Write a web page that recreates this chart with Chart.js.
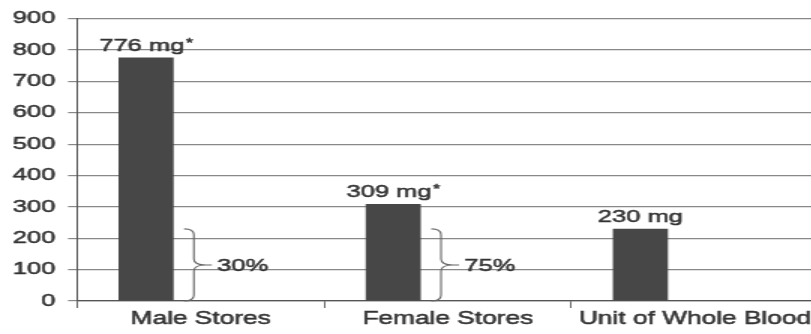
<!DOCTYPE html>
<html>
<head>
<meta charset="utf-8">
<script src="https://cdn.jsdelivr.net/npm/chart.js@4/dist/chart.umd.min.js"></script>
<style>
  html, body { margin: 0; padding: 0; background: #fff; overflow: hidden; width: 811px; height: 334px; }
  /* The figure is drawn narrow and widened horizontally, like the printed original */
  #wrap { position: absolute; left: 0; top: 0; width: 548px; height: 334px; transform: scaleX(1.5); transform-origin: 0 0; }
  canvas { display: block; filter: blur(0.45px); }
</style>
</head>
<body>
<div id="wrap"><canvas id="chart" width="548" height="334"></canvas></div>
<script>
// Iron content (mg)
const categories = ['Male Stores', 'Female Stores', 'Unit of Whole Blood'];
const ironMg = [776, 309, 230];
const footnoteMark = [true, true, false];
// Iron lost with one unit of whole blood, bracketed against each store
const bloodUnitSpan = [230, 230, null];
const shareLabels = ['30%', '75%', null];
const yTickValues = [0, 100, 200, 300, 400, 500, 600, 700, 800, 900];

const TEXT = '#333';
const FONT = '"Liberation Sans", Arial, Helvetica, sans-serif';
const STROKE = 0.5;

function heavyText(ctx, s, x, y) {
  ctx.lineWidth = STROKE;
  ctx.strokeStyle = TEXT;
  ctx.strokeText(s, x, y);
  ctx.fillText(s, x, y);
}

const annotate = {
  id: 'annotate',
  afterDatasetsDraw(chart) {
    const ctx = chart.ctx;
    const bars = chart.getDatasetMeta(0).data;
    const y = chart.scales.y;
    ctx.save();
    bars.forEach((bar, i) => {
      // value label, with an optional footnote asterisk
      const main = ironMg[i] + ' mg';
      ctx.font = '17px ' + FONT;
      const mw = ctx.measureText(main).width;
      let sw = 0;
      if (footnoteMark[i]) {
        ctx.font = '12px ' + FONT;
        sw = ctx.measureText('*').width + 1;
      }
      const left = bar.x - (mw + sw) / 2;
      const base = bar.y - 7;
      ctx.fillStyle = TEXT;
      ctx.textAlign = 'left';
      ctx.textBaseline = 'alphabetic';
      ctx.font = '17px ' + FONT;
      heavyText(ctx, main, left, base);
      if (footnoteMark[i]) {
        ctx.font = '12px ' + FONT;
        heavyText(ctx, '*', left + mw + 1, base - 4);
      }

      // curly brace spanning one unit of blood
      const span = bloodUnitSpan[i];
      if (span == null) return;
      const yTop = y.getPixelForValue(span);
      const yBot = y.getPixelForValue(0);
      const yMid = (yTop + yBot) / 2;
      const xr = bar.x + bar.width / 2;
      const x0 = xr + 7, x1 = xr + 13.5, x2 = xr + 21.5;
      const r = 6;
      ctx.strokeStyle = '#666';
      ctx.lineWidth = 1.1;
      ctx.beginPath();
      ctx.moveTo(x0, yTop);
      ctx.quadraticCurveTo(x1, yTop, x1, yTop + r);
      ctx.lineTo(x1, yMid - r);
      ctx.quadraticCurveTo(x1, yMid, x2, yMid);
      ctx.quadraticCurveTo(x1, yMid, x1, yMid + r);
      ctx.lineTo(x1, yBot - r);
      ctx.quadraticCurveTo(x1, yBot, x0, yBot);
      ctx.moveTo(x2, yMid);
      ctx.lineTo(x2 + 4, yMid);
      ctx.stroke();

      ctx.font = '17px ' + FONT;
      ctx.textBaseline = 'middle';
      heavyText(ctx, shareLabels[i], xr + 29, yMid + 1);
    });
    ctx.restore();
  }
};

new Chart(document.getElementById('chart'), {
  type: 'bar',
  data: {
    labels: categories,
    datasets: [
      { data: ironMg, backgroundColor: '#474747', borderWidth: 0,
        categoryPercentage: 0.883, barPercentage: 0.505 },
      { data: bloodUnitSpan, backgroundColor: 'rgba(0,0,0,0)', borderWidth: 0,
        categoryPercentage: 0.883, barPercentage: 0.505 }
    ]
  },
  options: {
    responsive: false,
    animation: false,
    devicePixelRatio: 1,
    events: [],
    layout: { padding: { left: 0, right: 2.3, top: 17.5, bottom: 4 } },
    plugins: { legend: { display: false }, tooltip: { enabled: false } },
    scales: {
      x: {
        offset: true,
        grid: { display: true, drawOnChartArea: false, drawTicks: true, tickLength: 7, color: '#666', offset: true },
        border: { color: '#555', width: 1.2 },
        ticks: { padding: 0.5, color: TEXT, font: { family: FONT, size: 17.5 }, maxRotation: 0, minRotation: 0, autoSkip: false,
                 textStrokeColor: TEXT, textStrokeWidth: STROKE }
      },
      y: {
        min: 0,
        max: 900,
        afterBuildTicks: s => { s.ticks = yTickValues.map(v => ({ value: v })); },
        grid: { color: '#888', lineWidth: 1.2, tickLength: 6, drawTicks: true },
        border: { color: '#555', width: 1 },
        ticks: { padding: 8.5, color: TEXT, font: { family: FONT, size: 17 }, textStrokeColor: TEXT, textStrokeWidth: STROKE }
      }
    }
  },
  plugins: [annotate]
});
</script>
</body>
</html>
